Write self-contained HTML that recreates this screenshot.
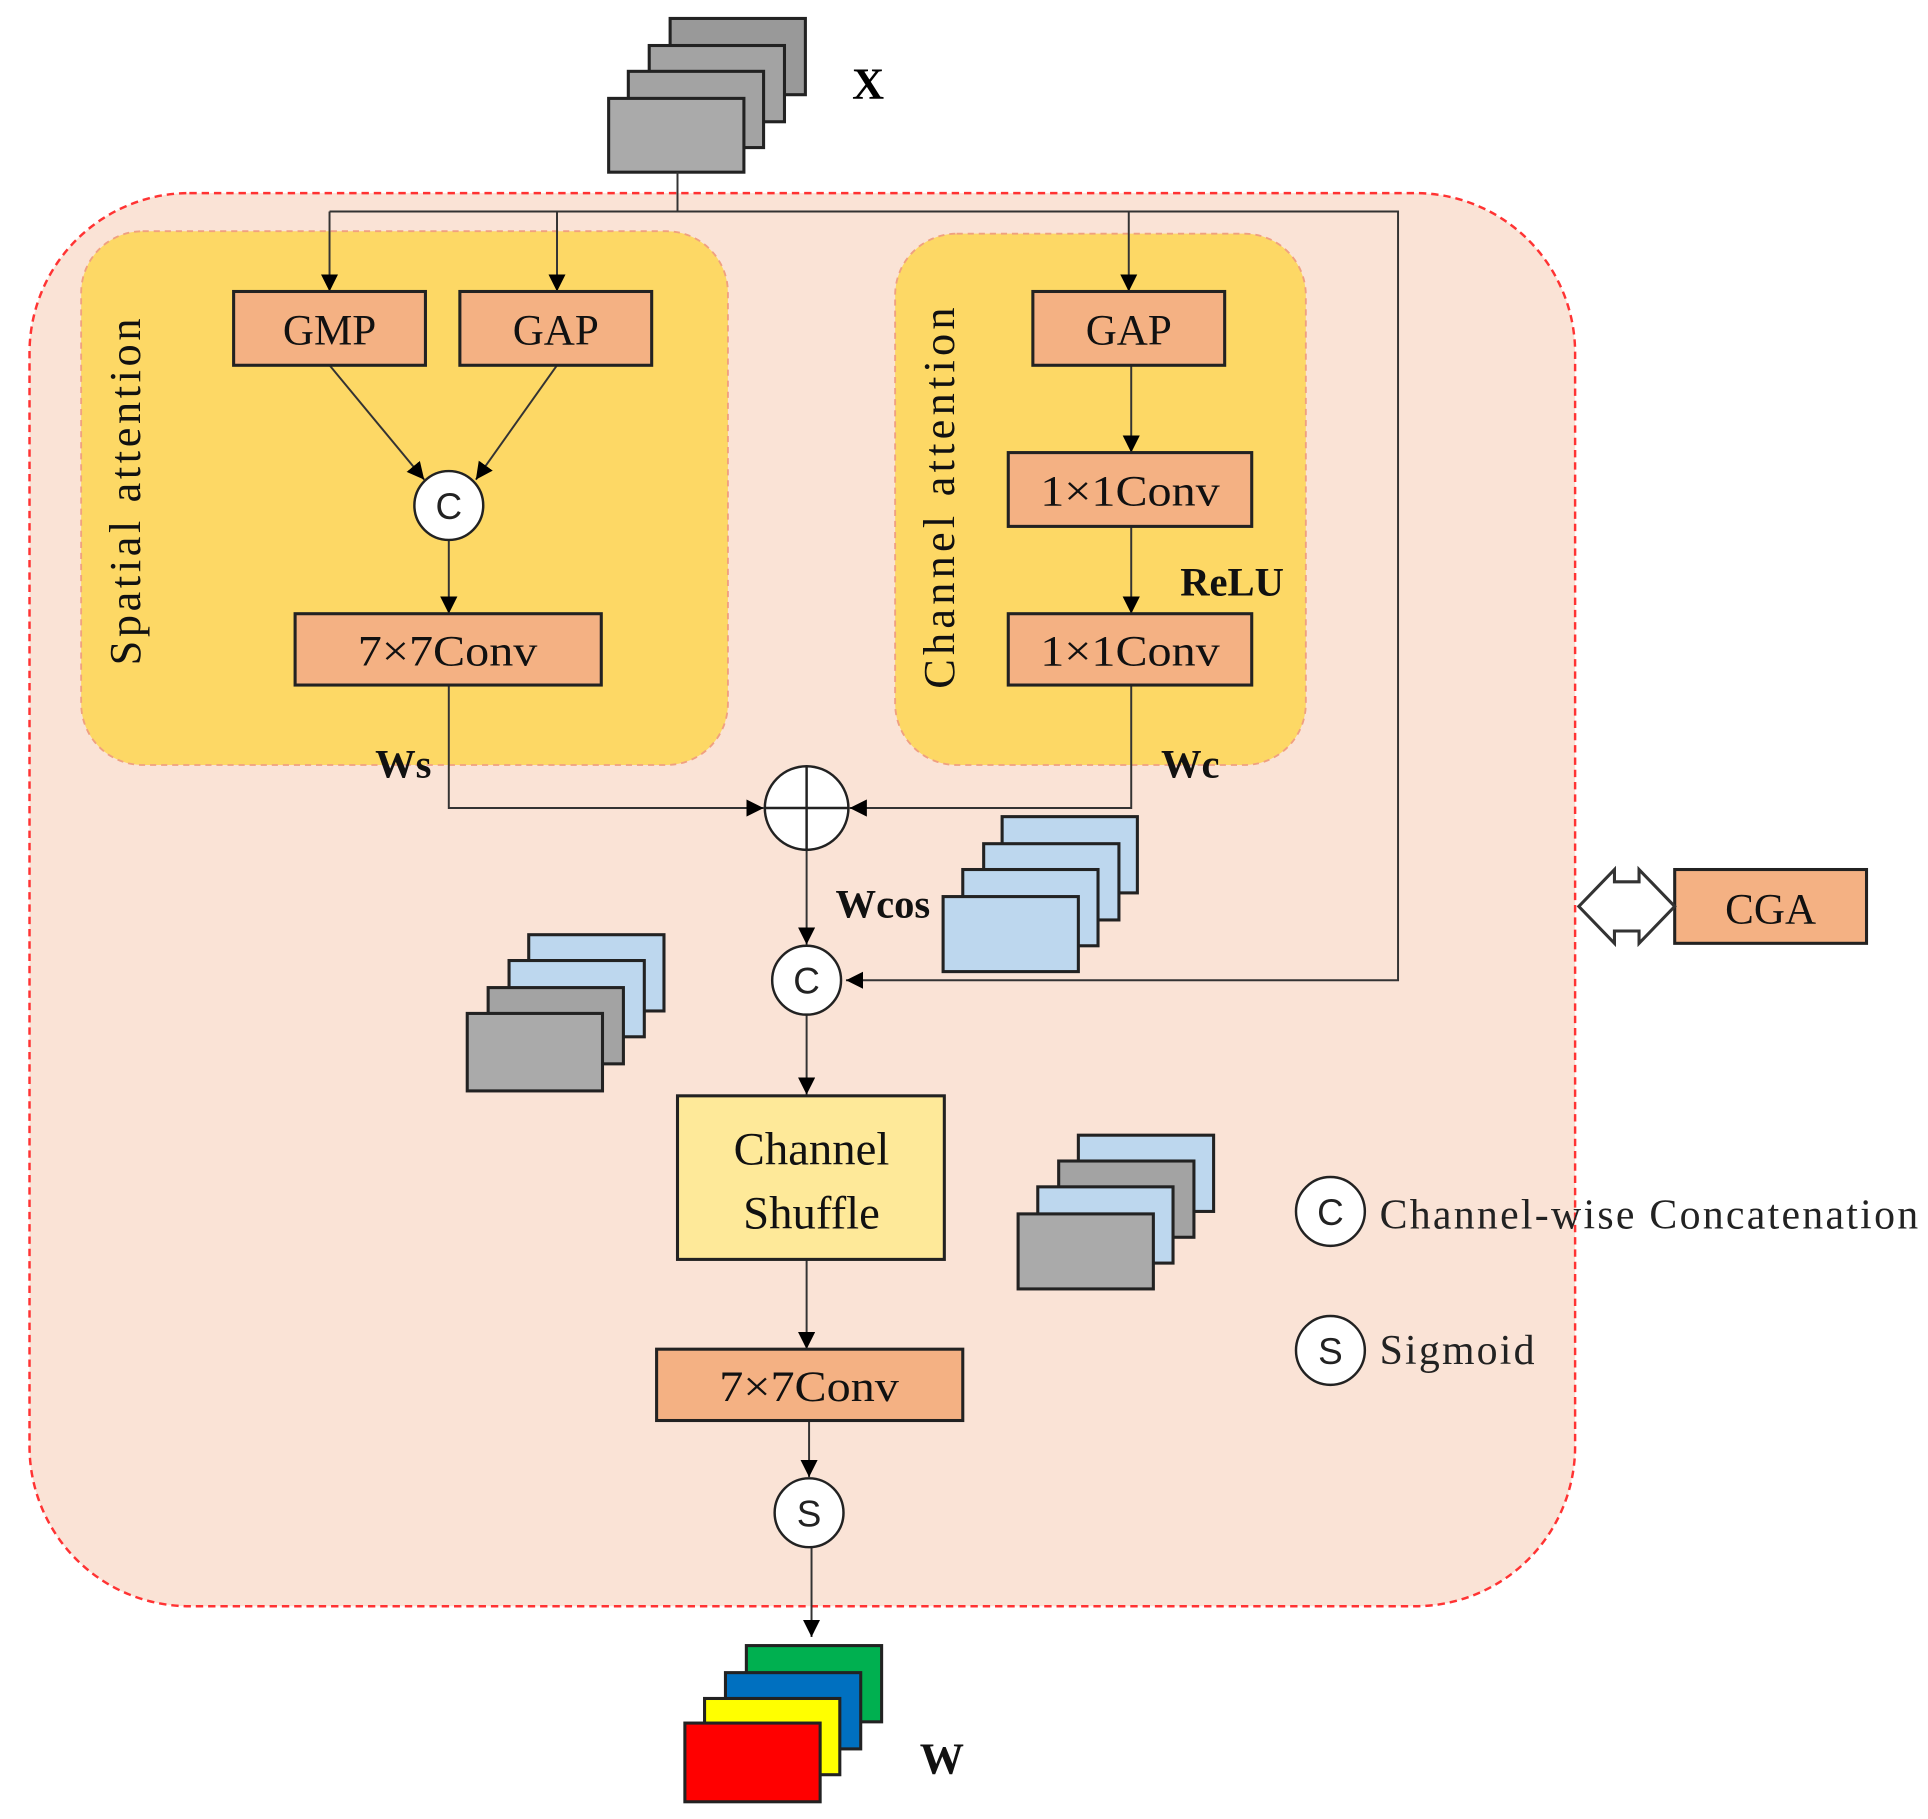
<!DOCTYPE html>
<html><head><meta charset="utf-8"><style>html,body{margin:0;padding:0;background:#fff}svg{display:block}</style></head><body>
<svg width="1928" height="1819" viewBox="0 0 1568 1479" preserveAspectRatio="none" xmlns="http://www.w3.org/2000/svg" font-family="Liberation Serif, serif">
<defs><marker id="a" viewBox="0 0 10 10" refX="10" refY="5" markerWidth="14" markerHeight="14" markerUnits="userSpaceOnUse" orient="auto"><path d="M0,0 L10,5 L0,10 z" fill="#000"/></marker></defs>
<g stroke="#222" stroke-width="2.5">
<rect x="545" y="15" width="110" height="62" fill="#999"/>
<rect x="528" y="37" width="110" height="62" fill="#a3a3a3"/>
<rect x="511" y="58" width="110" height="62" fill="#a3a3a3"/>
<rect x="495" y="80" width="110" height="60" fill="#aaa"/>
</g>
<text x="706" y="80" font-size="36" font-weight="bold" text-anchor="middle">X</text>
<rect x="24" y="157" width="1257" height="1149" rx="130" fill="#fae3d6" stroke="#f33" stroke-width="2" stroke-dasharray="6,4"/>
<rect x="66" y="188" width="526" height="434" rx="50" fill="#fdd865" stroke="#f0a080" stroke-width="1.5" stroke-dasharray="5,4"/>
<rect x="728" y="190" width="334" height="432" rx="50" fill="#fdd865" stroke="#f0a080" stroke-width="1.5" stroke-dasharray="5,4"/>
<g stroke="#333" stroke-width="1.6" fill="none">
<path d="M551,140 V172 M268,172 H1137 V797 H688" marker-end="url(#a)"/>
<path d="M268,172 V237" marker-end="url(#a)"/>
<path d="M453,172 V237" marker-end="url(#a)"/>
<path d="M918,172 V237" marker-end="url(#a)"/>
<path d="M268,297 L345,390" marker-end="url(#a)"/>
<path d="M453,297 L387,390" marker-end="url(#a)"/>
<path d="M365,439 V499" marker-end="url(#a)"/>
<path d="M920,297 V368" marker-end="url(#a)"/>
<path d="M920,428 V499" marker-end="url(#a)"/>
<path d="M365,557 V657 H621" marker-end="url(#a)"/>
<path d="M920,557 V657 H691" marker-end="url(#a)"/>
<path d="M656,691 V768" marker-end="url(#a)"/>
<path d="M656,825 V890" marker-end="url(#a)"/>
<path d="M656,1024 V1097" marker-end="url(#a)"/>
<path d="M658,1155 V1201" marker-end="url(#a)"/>
<path d="M660,1258 V1331" marker-end="url(#a)"/>
</g>
<g stroke="#222" stroke-width="2.5" fill="#f4b183">
<rect x="190" y="237" width="156" height="60"/>
<rect x="374" y="237" width="156" height="60"/>
<rect x="240" y="499" width="249" height="58"/>
<rect x="840" y="237" width="156" height="60"/>
<rect x="820" y="368" width="198" height="60"/>
<rect x="820" y="499" width="198" height="58"/>
<rect x="534" y="1097" width="249" height="58"/>
<rect x="1362" y="707" width="156" height="60"/>
<rect x="551" y="891" width="217" height="133" fill="#fee999"/>
</g>
<g font-size="35" text-anchor="middle" fill="#111">
<text x="268" y="280">GMP</text>
<text x="452" y="280">GAP</text>
<text x="364" y="541" textLength="146" lengthAdjust="spacingAndGlyphs">7×7Conv</text>
<text x="918" y="280">GAP</text>
<text x="919" y="411" textLength="146" lengthAdjust="spacingAndGlyphs">1×1Conv</text>
<text x="919" y="541" textLength="146" lengthAdjust="spacingAndGlyphs">1×1Conv</text>
<text x="658" y="1139" textLength="146" lengthAdjust="spacingAndGlyphs">7×7Conv</text>
<text x="1440" y="751">CGA</text>
<text x="660" y="947" font-size="38">Channel</text>
<text x="660" y="999" font-size="38">Shuffle</text>
<text transform="translate(114,400) rotate(-90)" font-size="36" textLength="282">Spatial attention</text>
<text transform="translate(776,405) rotate(-90)" font-size="36" textLength="310">Channel attention</text>
</g>
<g font-size="33" font-weight="bold" fill="#111" text-anchor="middle">
<text x="1002" y="484">ReLU</text>
<text x="328" y="632">Ws</text>
<text x="968" y="632">Wc</text>
<text x="718" y="746">Wcos</text>
<text x="766" y="1442" font-size="36">W</text>
</g>
<g stroke="#222" stroke-width="2" fill="#fff">
<circle cx="365" cy="411" r="28"/>
<circle cx="656" cy="657" r="34"/>
<circle cx="656" cy="797" r="28"/>
<circle cx="658" cy="1230" r="28"/>
<circle cx="1082" cy="985" r="28"/>
<circle cx="1082" cy="1098" r="28"/>
<path d="M622,657 H690 M656,623 V691" fill="none"/>
</g>
<g font-family="Liberation Sans, sans-serif" font-size="30" text-anchor="middle" fill="#222">
<text x="365" y="422">C</text>
<text x="656" y="808">C</text>
<text x="658" y="1241">S</text>
<text x="1082" y="996">C</text>
<text x="1082" y="1109">S</text>
</g>
<g font-size="34" fill="#222">
<text x="1122" y="999" textLength="438">Channel-wise Concatenation</text>
<text x="1122" y="1109" textLength="126">Sigmoid</text>
</g>
<g stroke="#222" stroke-width="2.5">
<rect x="815" y="664" width="110" height="62" fill="#bdd7ee"/>
<rect x="800" y="686" width="110" height="62" fill="#bdd7ee"/>
<rect x="783" y="707" width="110" height="62" fill="#bdd7ee"/>
<rect x="767" y="729" width="110" height="61" fill="#bdd7ee"/>
<rect x="430" y="760" width="110" height="62" fill="#bdd7ee"/>
<rect x="414" y="781" width="110" height="62" fill="#bdd7ee"/>
<rect x="397" y="803" width="110" height="62" fill="#a3a3a3"/>
<rect x="380" y="824" width="110" height="63" fill="#aaa"/>
<rect x="877" y="923" width="110" height="62" fill="#bdd7ee"/>
<rect x="861" y="944" width="110" height="62" fill="#a3a3a3"/>
<rect x="844" y="965" width="110" height="62" fill="#bdd7ee"/>
<rect x="828" y="987" width="110" height="61" fill="#aaa"/>
<rect x="607" y="1338" width="110" height="62" fill="#00b050"/>
<rect x="590" y="1360" width="110" height="62" fill="#0070c0"/>
<rect x="573" y="1381" width="110" height="62" fill="#ffff00"/>
<rect x="557" y="1401" width="110" height="64" fill="#ff0000"/>
</g>
<path d="M1284,737 L1313,707 V717 H1333 V707 L1362,737 L1333,767 V757 H1313 V767 Z" fill="#fff" stroke="#333" stroke-width="2.5"/>
</svg>
</body></html>
